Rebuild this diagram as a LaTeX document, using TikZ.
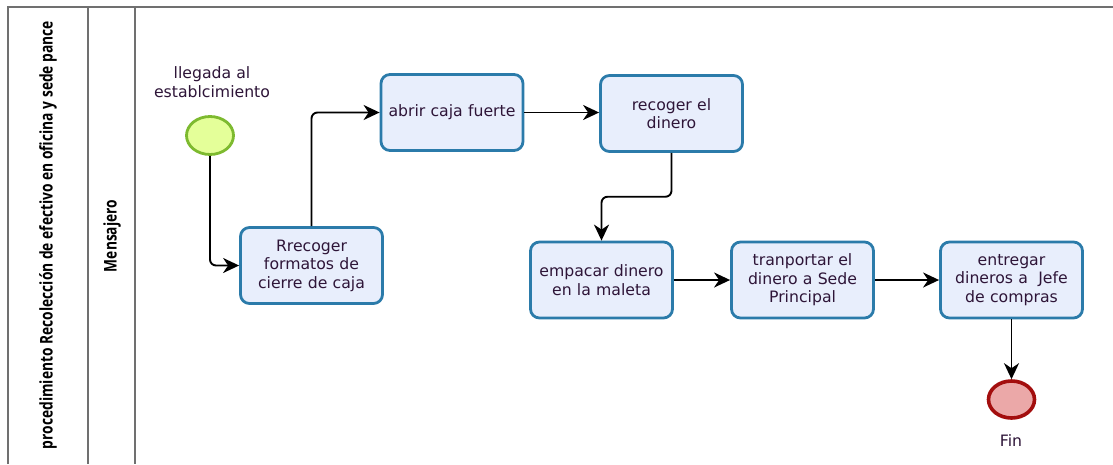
\documentclass[tikz,border=0pt]{standalone}
\usepackage{fontspec}
\usepackage{graphicx}
\setmainfont{DejaVu Sans}
\newfontfamily\headfont{Open Sans}
\usetikzlibrary{arrows.meta,shapes.geometric,calc}
\definecolor{txtc}{HTML}{2E1538}
\definecolor{taskfill}{HTML}{E8EEFC}
\definecolor{taskline}{HTML}{2B7BAA}
\definecolor{startfill}{HTML}{E4FF99}
\definecolor{startline}{HTML}{7DBA2F}
\definecolor{endfill}{HTML}{EBA8A8}
\definecolor{endline}{HTML}{A30E0E}
\definecolor{poolline}{HTML}{707070}
\begin{document}
\begin{tikzpicture}[x=1pt,y=-1pt,
  task/.style={draw=taskline, fill=taskfill, line width=2.8pt, rounded corners=9pt,
    rectangle, minimum width=142pt, minimum height=76pt, inner sep=2pt,
    align=center, text width=138pt, text=txtc,
    font=\fontsize{15.7pt}{18.5pt}\selectfont},
  startev/.style={ellipse, draw=startline, fill=startfill, line width=2.8pt,
    minimum width=47pt, minimum height=38pt, inner sep=0pt},
  endev/.style={ellipse, draw=endline, fill=endfill, line width=3.6pt,
    minimum width=46pt, minimum height=37pt, inner sep=0pt},
  evlabel/.style={text=txtc, align=center, font=\fontsize{15.7pt}{18.5pt}\selectfont},
  flow/.style={draw=black, line width=1.9pt, rounded corners=6pt,
    -{Stealth[length=16pt,width=15pt,inset=5pt]}},
  pool/.style={draw=poolline, line width=1.8pt}]
\useasboundingbox (0,0) rectangle (1113,464);
\fill[white] (0,0) rectangle (1113,464);

% pool and lane frame
\draw[pool] (8,464) -- (8,7) -- (1113,7);
\draw[pool] (88,7) -- (88,464);
\draw[pool] (135,7) -- (135,464);
\node[rotate=90, inner sep=0pt] (pooltitle) at (48,235)
  {\resizebox{428pt}{\height}{\headfont\bfseries\fontsize{17.5pt}{20pt}\selectfont procedimiento Recolección de efectivo en oficina y sede pance}};
\node[rotate=90, inner sep=0pt] (lanetitle) at (112,236)
  {\resizebox{72pt}{\height}{\headfont\bfseries\fontsize{17.5pt}{20pt}\selectfont Mensajero}};

% events
\node[startev] (start) at (210,135.5) {};
\node[evlabel] (startlbl) at (212,82) {llegada al\\establcimiento};
\node[endev] (fin) at (1011.5,399.5) {};
\node[evlabel] (finlbl) at (1011,441) {Fin};

% tasks
\node[task] (t1) at (311.5,265.5) {Rrecoger\\formatos de\\cierre de caja};
\node[task] (t2) at (452,112.5) {abrir caja fuerte};
\node[task] (t3) at (671.5,113.5) {recoger el\\dinero\\[18.5pt]};
\node[task] (t4) at (601.5,280) {empacar dinero\\en la maleta\\[18.5pt]};
\node[task] (t5) at (802.5,280) {tranportar el\\dinero a Sede\\Principal};
\node[task] (t6) at (1011.5,280) {entregar\\dineros a\ \ Jefe\\de compras};

% sequence flows
\draw[flow] (start.south) |- (t1.west);
\draw[flow] (t1.north) |- (t2.west);
\draw[flow] (t2.east) -- (t3.west |- t2.east);
\coordinate (bend) at ($(t3.south)!0.5!(t4.north)$);
\draw[flow] (t3.south) |- (bend) -| (t4.north);
\draw[flow] (t4.east) -- (t5.west);
\draw[flow] (t5.east) -- (t6.west);
\draw[flow] (t6.south) -- (fin.north);
\end{tikzpicture}
\end{document}
